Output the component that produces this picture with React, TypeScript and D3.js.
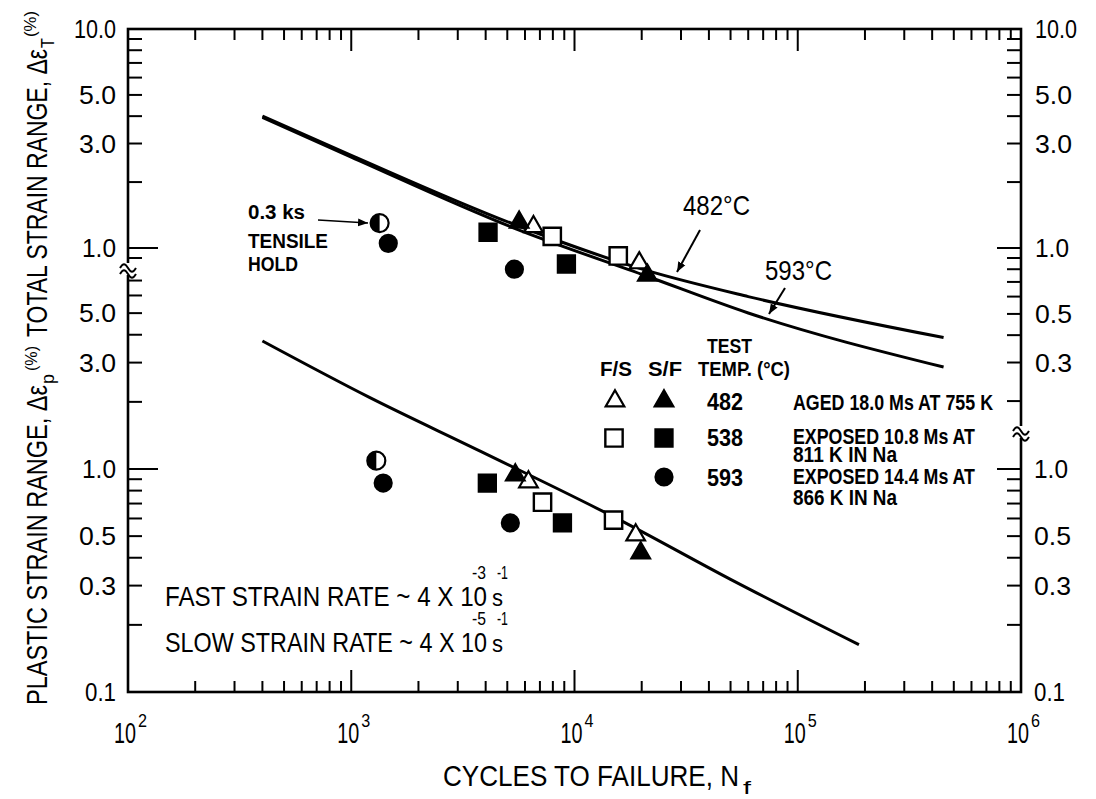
import React from "react"
import * as d3 from "d3"

// fatigue curves: cycles to failure vs strain range (%)
const curve482N = [400, 1000, 5500, 21000, 60000, 450000]
const curve482E = [4.0, 2.65, 1.27, 0.79, 0.6, 0.39]
const curve593N = [400, 1000, 5500, 21000, 60000, 450000]
const curve593E = [3.95, 2.6, 1.22, 0.745, 0.505, 0.286]
const plasticN = [400, 1200, 3800, 16000, 50000, 188000]
const plasticE = [3.75, 2.1, 1.2, 0.59, 0.32, 0.163]

// test points [cycles, strain %], total strain range (upper half)
const totOpenTri = [[6550, 1.25], [19500, 0.855]]
const totFillTri = [[5650, 1.31], [21200, 0.75]]
const totOpenSq = [[7950, 1.13], [15700, 0.92]]
const totFillSq = [[4100, 1.18], [9200, 0.845]]
const totCircle = [[1465, 1.05], [5380, 0.8]]
const totHold = [[1340, 1.3]]
// plastic strain range (lower half)
const plOpenTri = [[6220, 0.875], [18800, 0.506]]
const plFillTri = [[5430, 0.94], [19800, 0.42]]
const plOpenSq = [[7190, 0.71], [14960, 0.59]]
const plFillSq = [[4070, 0.865], [8830, 0.573]]
const plCircle = [[1390, 0.865], [5160, 0.573]]
const plHold = [[1295, 1.09]]

const decades = [1e2, 1e3, 1e4, 1e5, 1e6]
const leftTotalLabels = [10, 5, 3, 1]
const leftPlasticLabels = [5, 3, 1, 0.5, 0.3, 0.1]
const rightTotalLabels = [10, 5, 3, 1, 0.5, 0.3]
const rightPlasticLabels = [1, 0.5, 0.3, 0.1]

const x = d3.scaleLog().domain([1e2, 1e6]).range([128, 1021])
const yT = d3.scaleLog().domain([1, 10]).range([248, 29])
const yP = d3.scaleLog().domain([0.1, 1]).range([692, 469])

const L = 128,
	R = 1021,
	TOP = 29,
	BOT = 692

const FONT = "'Liberation Sans Narrow', 'Liberation Sans', Arial, sans-serif"

function T({ x, y, w, size = 24, bold = false, anchor = "start", children }: any) {
	const x0 = anchor === "end" ? x - w : anchor === "middle" ? x - w / 2 : x
	return (
		<text
			x={x0}
			y={y}
			fontSize={size}
			fontWeight={bold ? 700 : 400}
			textLength={w}
			lengthAdjust="spacingAndGlyphs">
			{children}
		</text>
	)
}

const fmt = (v: number) => (v >= 1 ? v.toFixed(1) : String(v))
const labW = (v: number) => (v >= 10 ? 42 : v === 1 ? 34 : v === 0.1 ? 31 : 37)

const tri = d3.symbol().type(d3.symbolTriangle).size(150)()
const sq = d3.symbol().type(d3.symbolSquare).size(300)()
const circ = d3.symbol().type(d3.symbolCircle).size(290)()

function Mark({ kind, cx, cy }: any) {
	const t = `translate(${cx},${cy})`
	if (kind === "openTri")
		return <path d={tri!} transform={t} fill="#fff" stroke="#000" strokeWidth={2.2} />
	if (kind === "fillTri")
		return <path d={tri!} transform={t} fill="#000" stroke="#000" strokeWidth={2.2} />
	if (kind === "openSq")
		return <path d={sq!} transform={t} fill="#fff" stroke="#000" strokeWidth={2.4} />
	if (kind === "fillSq")
		return <path d={sq!} transform={t} fill="#000" stroke="#000" strokeWidth={2} />
	if (kind === "circle") return <path d={circ!} transform={t} fill="#000" />
	// half filled circle (tensile hold)
	return (
		<g transform={t}>
			<circle r={9} fill="#fff" stroke="#000" strokeWidth={2.2} />
			<path d="M0,-9 A9,9 0 0,0 0,9 Z" fill="#000" />
		</g>
	)
}

function Break({ cx, cy }: any) {
	return (
		<g>
			<rect x={cx - 5} y={cy - 6} width={10} height={12} fill="#fff" />
			<path
				d={`M${cx - 8},${cy - 1} c3,-5 5,-5 8,0 s5,5 8,0 M${cx - 8},${cy + 5} c3,-5 5,-5 8,0 s5,5 8,0`}
				fill="none"
				stroke="#000"
				strokeWidth={2}
			/>
		</g>
	)
}

export default function App() {
	const path482 = d3
		.line<number>()
		.x((_, i) => x(curve482N[i]))
		.y((_, i) => yT(curve482E[i]))
		.curve(d3.curveMonotoneX)(curve482N)
	const path593 = d3
		.line<number>()
		.x((_, i) => x(curve593N[i]))
		.y((_, i) => yT(curve593E[i]))
		.curve(d3.curveMonotoneX)(curve593N)
	const pathPl = d3
		.line<number>()
		.x((_, i) => x(plasticN[i]))
		.y((_, i) => yP(plasticE[i]))
		.curve(d3.curveMonotoneX)(plasticN)

	// x ticks
	const xTicks: { v: number; major: boolean }[] = []
	for (let d = 0; d < 4; d++) {
		const base = decades[d]
		for (let k = 2; k <= 9; k++) xTicks.push({ v: base * k, major: false })
		if (d > 0) xTicks.push({ v: base, major: true })
	}

	const minor = [2, 3, 4, 5, 6, 7, 8, 9]
	// left axis ticks
	const leftTicks: { y: number; len: number }[] = []
	minor.forEach((k) => leftTicks.push({ y: yT(k), len: 14 }))
	leftTicks.push({ y: yT(1), len: 30 })
	leftTicks.push({ y: yT(0.9), len: 14 })
	;[2, 3, 4, 5, 6, 7].forEach((k) => leftTicks.push({ y: yP(k), len: 14 }))
	minor.forEach((k) => leftTicks.push({ y: yP(k / 10), len: 14 }))
	leftTicks.push({ y: yP(1), len: 30 })
	// right axis ticks
	const rightTicks: { y: number; len: number }[] = []
	minor.forEach((k) => rightTicks.push({ y: yT(k), len: 14 }))
	rightTicks.push({ y: yT(1), len: 24 })
	minor.forEach((k) => rightTicks.push({ y: yT(k / 10), len: 14 }))
	minor.forEach((k) => rightTicks.push({ y: yP(k / 10), len: 14 }))
	rightTicks.push({ y: yP(1), len: 24 })

	const groups: [string, number[][], any][] = [
		["openTri", totOpenTri, yT],
		["fillTri", totFillTri, yT],
		["openSq", totOpenSq, yT],
		["fillSq", totFillSq, yT],
		["circle", totCircle, yT],
		["hold", totHold, yT],
		["openTri", plOpenTri, yP],
		["fillTri", plFillTri, yP],
		["openSq", plOpenSq, yP],
		["fillSq", plFillSq, yP],
		["circle", plCircle, yP],
		["hold", plHold, yP],
	]

	return (
		<div style={{ position: "absolute", left: 0, top: 0 }}>
			<svg width={1096} height={799} style={{ display: "block", background: "#fff" }} fontFamily={FONT}>
				<defs>
					<marker
						id="ah"
						viewBox="0 0 10 10"
						refX={10}
						refY={5}
						markerWidth={10}
						markerHeight={10}
						markerUnits="userSpaceOnUse"
						orient="auto">
						<path d="M0,1 L10,5 L0,9 z" fill="#000" />
					</marker>
				</defs>

				{/* frame */}
				<rect x={L} y={TOP} width={R - L} height={BOT - TOP} fill="none" stroke="#000" strokeWidth={2.6} />

				{xTicks.map((t, i) => (
					<g key={"xt" + i} stroke="#000" strokeWidth={2}>
						<line x1={x(t.v)} x2={x(t.v)} y1={BOT} y2={BOT - (t.major ? 22 : 11)} />
						<line x1={x(t.v)} x2={x(t.v)} y1={TOP} y2={TOP + (t.major ? 22 : 11)} />
					</g>
				))}
				{leftTicks.map((t, i) => (
					<line key={"lt" + i} x1={L} x2={L + t.len} y1={t.y} y2={t.y} stroke="#000" strokeWidth={2} />
				))}
				{rightTicks.map((t, i) => (
					<line key={"rt" + i} x1={R} x2={R - t.len} y1={t.y} y2={t.y} stroke="#000" strokeWidth={2} />
				))}
				<Break cx={L} cy={269} />
				<Break cx={R} cy={432} />

				{/* tick labels */}
				{leftTotalLabels.map((v) => (
					<T key={"ltl" + v} x={116} y={yT(v) + 9} w={labW(v)} size={25} anchor="end">
						{fmt(v)}
					</T>
				))}
				{leftPlasticLabels.map((v) => (
					<T key={"lpl" + v} x={116} y={yP(v) + 9} w={labW(v)} size={25} anchor="end">
						{fmt(v)}
					</T>
				))}
				{rightTotalLabels.map((v) => (
					<T key={"rtl" + v} x={1035} y={yT(v) + 9} w={labW(v)} size={25}>
						{fmt(v)}
					</T>
				))}
				{rightPlasticLabels.map((v) => (
					<T key={"rpl" + v} x={1034} y={yP(v) + 9} w={labW(v)} size={25}>
						{fmt(v)}
					</T>
				))}
				{decades.map((d) => (
					<g key={"dec" + d}>
						<T x={x(d) - 3} y={743} w={22} size={29} anchor="middle">
							10
						</T>
						<T x={x(d) + 10} y={727} w={9} size={18}>
							{String(Math.round(Math.log10(d)))}
						</T>
					</g>
				))}

				{/* axis titles */}
				<T x={443} y={786} w={296} size={29}>
					CYCLES TO FAILURE, N
				</T>
				<T x={743} y={794} w={8} size={18}>
					f
				</T>
				<g transform="translate(47,705) rotate(-90)">
					<T x={0} y={0} w={320} size={30}>
						PLASTIC STRAIN RANGE, Δε
					</T>
					<T x={321} y={7} w={10} size={19}>
						p
					</T>
					<T x={334} y={-10} w={25} size={17}>
						(%)
					</T>
					<T x={368} y={0} w={288} size={30}>
						TOTAL STRAIN RANGE, Δε
					</T>
					<T x={657} y={7} w={10} size={19}>
						T
					</T>
					<T x={668} y={-11} w={26} size={17}>
						(%)
					</T>
				</g>

				{/* curves */}
				<path d={path482!} fill="none" stroke="#000" strokeWidth={3} />
				<path d={path593!} fill="none" stroke="#000" strokeWidth={3} />
				<path d={pathPl!} fill="none" stroke="#000" strokeWidth={3} />

				{/* data points */}
				{groups.map(([kind, pts, ys], gi) =>
					pts.map((p, i) => <Mark key={gi + "-" + i} kind={kind} cx={x(p[0])} cy={ys(p[1])} />)
				)}

				{/* curve labels */}
				<T x={683} y={215} w={67} size={28}>
					482°C
				</T>
				<line x1={700} y1={230} x2={677} y2={272} stroke="#000" strokeWidth={2} markerEnd="url(#ah)" />
				<T x={765} y={280} w={67} size={28}>
					593°C
				</T>
				<line x1={785} y1={288} x2={769} y2={314} stroke="#000" strokeWidth={2} markerEnd="url(#ah)" />

				{/* tensile hold note */}
				<T x={248} y={219} w={57} size={20} bold>
					0.3 ks
				</T>
				<T x={248} y={248} w={80} size={21} bold>
					TENSILE
				</T>
				<T x={248} y={271} w={50} size={21} bold>
					HOLD
				</T>
				<line x1={318} y1={220} x2={368} y2={223} stroke="#000" strokeWidth={1.6} markerEnd="url(#ah)" />

				{/* strain rate note */}
				<T x={165} y={606} w={322} size={28}>
					FAST STRAIN RATE ~ 4 X 10
				</T>
				<T x={492} y={606} w={11} size={24}>
					s
				</T>
				<T x={472} y={579} w={14} size={18}>
					-3
				</T>
				<T x={497} y={579} w={11} size={18}>
					-1
				</T>
				<T x={165} y={652} w={322} size={28}>
					SLOW STRAIN RATE ~ 4 X 10
				</T>
				<T x={492} y={652} w={11} size={24}>
					s
				</T>
				<T x={472} y={625} w={14} size={18}>
					-5
				</T>
				<T x={497} y={625} w={11} size={18}>
					-1
				</T>

				{/* legend */}
				<T x={707} y={353} w={45} size={21} bold>
					TEST
				</T>
				<T x={600} y={376} w={32} size={21} bold>
					F/S
				</T>
				<T x={648} y={376} w={34} size={21} bold>
					S/F
				</T>
				<T x={698} y={376} w={92} size={21} bold>
					TEMP. (°C)
				</T>
				<Mark kind="openTri" cx={615} cy={401} />
				<Mark kind="fillTri" cx={664} cy={401} />
				<T x={707} y={410} w={36} size={23} bold>
					482
				</T>
				<T x={793} y={410} w={200} size={22} bold>
					AGED 18.0 Ms AT 755 K
				</T>
				<Mark kind="openSq" cx={614} cy={438} />
				<Mark kind="fillSq" cx={664} cy={438} />
				<T x={707} y={446} w={36} size={23} bold>
					538
				</T>
				<T x={793} y={444} w={182} size={22} bold>
					EXPOSED 10.8 Ms AT
				</T>
				<T x={793} y={462} w={104} size={22} bold>
					811 K IN Na
				</T>
				<Mark kind="circle" cx={664} cy={477} />
				<T x={707} y={486} w={36} size={23} bold>
					593
				</T>
				<T x={793} y={484} w={182} size={22} bold>
					EXPOSED 14.4 Ms AT
				</T>
				<T x={793} y={505} w={104} size={22} bold>
					866 K IN Na
				</T>
			</svg>
		</div>
	)
}
